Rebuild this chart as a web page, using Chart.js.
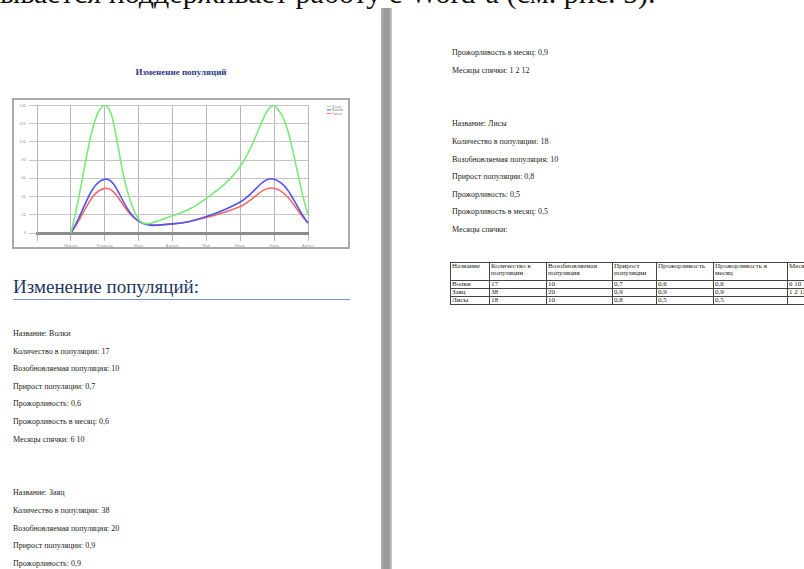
<!DOCTYPE html>
<html>
<head>
<meta charset="utf-8">
<script src="https://cdn.jsdelivr.net/npm/chart.js@4/dist/chart.umd.min.js"></script>
<style>
  html, body { margin: 0; padding: 0; background: #fff; width: 804px; height: 569px; overflow: hidden;
    font-family: "Liberation Serif", "Times New Roman", serif; }
  .abs { position: absolute; white-space: nowrap; }
  .lead { left: 0; top: -22px; width: 503px; text-align: right; font-size: 30px; line-height: 30px; color: #111;
    font-family: "Liberation Serif", serif; }
  .divider { left: 381px; top: 8px; width: 11px; height: 561px;
    background: linear-gradient(to right, #b4b4b4, #9a9a9a 30%, #9c9c9c 75%, #cfcfcf); }
  .ctitle { left: 0; width: 362px; text-align: center; top: 66px; font-size: 9px; line-height: 12px;
    font-weight: bold; color: #2d3b85; }
  .frame { left: 12px; top: 98px; width: 338px; height: 151px; border: 2px solid #a9a9a9;
    box-sizing: border-box; background: #fff; }
  .frame canvas { display: block; }
  .h1 { left: 13px; top: 276px; font-size: 19px; line-height: 22px; color: #1f3763; }
  .rule { left: 13px; top: 299px; width: 337px; height: 1px; background: #6f97d4; }
  .p { font-size: 8px; line-height: 10px; color: #222; }
  table.sum { position: absolute; left: 450px; top: 262px; width: 397px; border-collapse: collapse; table-layout: fixed;
    font-size: 7px; line-height: 7px; color: #222; }
  table.sum td { border: 1px solid #444; padding: 0 1px; vertical-align: top; overflow: hidden; white-space: normal; }
</style>
</head>
<body>

<div class="abs lead">ывается поддерживает работу с Word-а (см. рис. 5).</div>
<div class="abs divider"></div>

<!-- left page -->
<div class="abs ctitle">Изменение популяций</div>
<div class="abs frame"><canvas id="chart" width="334" height="147"></canvas></div>

<div class="abs h1">Изменение популяций:</div>
<div class="abs rule"></div>

<div class="abs p" style="left:13px;top:329px">Название: Волки</div>
<div class="abs p" style="left:13px;top:347px">Количество в популяции: 17</div>
<div class="abs p" style="left:13px;top:364px">Возобновляемая популяция: 10</div>
<div class="abs p" style="left:13px;top:382px">Прирост популяции: 0,7</div>
<div class="abs p" style="left:13px;top:399px">Прожорливость: 0,6</div>
<div class="abs p" style="left:13px;top:417px">Прожорливость в месяц: 0,6</div>
<div class="abs p" style="left:13px;top:435px">Месяцы спячки: 6 10</div>

<div class="abs p" style="left:13px;top:488px">Название: Заяц</div>
<div class="abs p" style="left:13px;top:506px">Количество в популяции: 38</div>
<div class="abs p" style="left:13px;top:524px">Возобновляемая популяция: 20</div>
<div class="abs p" style="left:13px;top:541px">Прирост популяции: 0,9</div>
<div class="abs p" style="left:13px;top:559px">Прожорливость: 0,9</div>

<!-- right page -->
<div class="abs p" style="left:452px;top:48px">Прожорливость в месяц: 0,9</div>
<div class="abs p" style="left:452px;top:66px">Месяцы спячки: 1 2 12</div>

<div class="abs p" style="left:452px;top:119px">Название: Лисы</div>
<div class="abs p" style="left:452px;top:137px">Количество в популяции: 18</div>
<div class="abs p" style="left:452px;top:155px">Возобновляемая популяция: 10</div>
<div class="abs p" style="left:452px;top:172px">Прирост популяции: 0,8</div>
<div class="abs p" style="left:452px;top:190px">Прожорливость: 0,5</div>
<div class="abs p" style="left:452px;top:207px">Прожорливость в месяц: 0,5</div>
<div class="abs p" style="left:452px;top:225px">Месяцы спячки:</div>

<table class="sum">
  <colgroup>
    <col style="width:39px"><col style="width:57px"><col style="width:66px"><col style="width:44px">
    <col style="width:57px"><col style="width:74px"><col style="width:60px">
  </colgroup>
  <tr style="height:18px"><td>Название</td><td>Количество в популяции</td><td>Возобновляемая популяция</td><td>Прирост популяции</td><td>Прожорливость</td><td>Прожорливость в месяц</td><td>Месяцы спячки</td></tr>
  <tr style="height:8px"><td>Волки</td><td>17</td><td>10</td><td>0,7</td><td>0,6</td><td>0,6</td><td>6 10</td></tr>
  <tr style="height:8px"><td>Заяц</td><td>38</td><td>20</td><td>0,9</td><td>0,9</td><td>0,9</td><td>1 2 12</td></tr>
  <tr style="height:7px"><td>Лисы</td><td>18</td><td>10</td><td>0,8</td><td>0,5</td><td>0,5</td><td></td></tr>
</table>

<script>
// Months along the x axis (the first slot sits on the y axis and has no data)
const months = ['', 'Январь', 'Февраль', 'Март', 'Апрель', 'Май', 'Июнь', 'Июль', 'Август'];

// Population size per month
const wolves = [null, 0, 59, 13, 10, 18, 34, 59, 11];
const hares  = [null, 0, 140, 15, 19, 38, 73, 140, 20];
const foxes  = [null, 0, 49, 13, 10, 17, 29, 49, 11];

const seriesNames = ['Волки', 'Заяц', 'Лисы'];

// Small legend drawn in the space right of the plot
const sideLegend = {
  id: 'sideLegend',
  afterDraw(chart) {
    const ctx = chart.ctx;
    const x0 = chart.chartArea.right + 19;
    ctx.save();
    ctx.font = '4px "Liberation Sans", sans-serif';
    ctx.textBaseline = 'middle';
    chart.data.datasets.forEach((ds, i) => {
      const y = chart.chartArea.top + 1 + i * 3.5;
      ctx.strokeStyle = ds.borderColor;
      ctx.lineWidth = 1;
      ctx.beginPath();
      ctx.moveTo(x0, y);
      ctx.lineTo(x0 + 4, y);
      ctx.stroke();
      ctx.fillStyle = '#888';
      ctx.fillText(ds.label, x0 + 5, y);
    });
    ctx.restore();
  }
};

new Chart(document.getElementById('chart'), {
  type: 'line',
  data: {
    labels: months,
    datasets: [
      { label: seriesNames[1], data: hares,  borderColor: '#78ea78' },
      { label: seriesNames[0], data: wolves, borderColor: '#5454ee' },
      { label: seriesNames[2], data: foxes,  borderColor: '#f46a6a' }
    ]
  },
  options: {
    responsive: false,
    animation: false,
    layout: { padding: { top: 5, right: 40, left: 0, bottom: 0 } },
    elements: {
      point: { radius: 0 },
      line: { borderWidth: 1.6, tension: 0.4, fill: false }
    },
    plugins: {
      legend: { display: false },
      tooltip: { enabled: false }
    },
    scales: {
      x: {
        offset: false,
        grid: { color: '#b6b6b6', lineWidth: 1 },
        border: { color: '#8c8c8c', width: 3 },
        ticks: { font: { size: 4, family: 'Liberation Sans' }, color: '#999', padding: 2, maxRotation: 0, autoSkip: false },
        afterFit(s) { s.height = 14; }
      },
      y: {
        min: 0, max: 140,
        ticks: { stepSize: 20, font: { size: 4, family: 'Liberation Sans' }, color: '#999', padding: 3 },
        grid: { color: '#c4c4c4', lineWidth: 1 },
        border: { color: '#b6b6b6' },
        afterFit(s) { s.width = 23; }
      }
    }
  },
  plugins: [sideLegend]
});
</script>
</body>
</html>
